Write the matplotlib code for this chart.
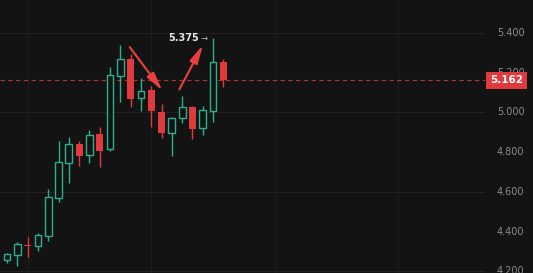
import matplotlib.pyplot as plt
import numpy as np

# candle data
opens = [4.256, 4.282, 4.334, 4.327, 4.377, 4.569, 4.745, 4.841, 4.785, 4.891, 4.816,
         5.183, 5.269, 5.073, 5.113, 5.002, 4.896, 4.972, 5.027, 4.921, 5.007, 5.254]
highs = [4.292, 4.347, 4.372, 4.392, 4.614, 4.856, 4.876, 4.856, 4.911, 4.926, 5.229,
         5.340, 5.294, 5.173, 5.133, 5.042, 4.977, 5.083, 5.032, 5.032, 5.375, 5.269]
lows = [4.241, 4.226, 4.272, 4.302, 4.352, 4.549, 4.644, 4.730, 4.745, 4.725, 4.806,
        5.052, 5.027, 5.007, 4.926, 4.871, 4.780, 4.947, 4.866, 4.886, 4.952, 5.128]
closes = [4.287, 4.337, 4.329, 4.382, 4.574, 4.750, 4.841, 4.780, 4.886, 4.806, 5.188,
          5.269, 5.067, 5.108, 5.007, 4.896, 4.972, 5.027, 4.916, 5.012, 5.254, 5.162]

last_price = 5.162
max_price = 5.375
ytick_vals = [4.2, 4.4, 4.6, 4.8, 5.0, 5.2, 5.4]
grid_y = [4.2, 4.6, 5.0, 5.4]
grid_x = [2, 14, 26, 38]

bg = '#131314'
green = '#2bb08c'
red = '#e0393e'

fig = plt.figure(figsize=(5.33, 2.73), dpi=100, facecolor=bg)
ax = fig.add_axes([0, 0, 485 / 533, 1])
ax.set_facecolor(bg)

x = np.arange(len(opens))
for i in x:
    o, h, l, c = opens[i], highs[i], lows[i], closes[i]
    up = c >= o
    col = green if up else red
    ax.vlines(i, l, h, color=col, lw=1, zorder=2)
    bottom = min(o, c)
    height = max(abs(c - o), 0.003)
    if up:
        ax.bar(i, height, bottom=bottom, width=0.66, facecolor=bg,
               edgecolor=col, linewidth=1, zorder=3)
    else:
        ax.bar(i, height, bottom=bottom, width=0.68, color=col, linewidth=0, zorder=3)

# grid
for gy in grid_y:
    ax.axhline(gy, color='#222224', lw=0.8, zorder=0)
for gx in grid_x:
    ax.axvline(gx, color='#1d1d1f', lw=0.8, zorder=0)

# last price line
ax.axhline(last_price, color=red, lw=0.8, ls=(0, (4, 3)), alpha=0.8, zorder=1)

# arrows
arrow_style = dict(arrowstyle='-|>,head_length=1.1,head_width=0.25',
                   color='#e8403f', lw=1.5)
ax.annotate('', xy=(15.25, 5.098), xytext=(11.75, 5.340),
            arrowprops=arrow_style, zorder=5)
ax.annotate('', xy=(19.15, 5.352), xytext=(16.6, 5.103),
            arrowprops=arrow_style, zorder=5)

# max label
ax.text(18.6, max_price, f'{max_price:.3f}', color='#e6e6e6', fontsize=7,
        fontweight='bold', ha='right', va='center', zorder=6)
ax.text(18.8, max_price - 0.004, '→', color='#bdbdbd', fontsize=6,
        ha='left', va='center', zorder=6)

ax.set_xlim(-0.68, 46.4)
ax.set_ylim(4.191, 5.566)
ax.set_xticks([])
ax.set_yticks([])
for s in ax.spines.values():
    s.set_visible(False)

# right price scale
for v in ytick_vals:
    fig.text(497 / 533, ax.transData.transform((0, v))[1] / 273, f'{v:.3f}',
             color='#8c8c8c', fontsize=7, ha='left', va='center')

ly = ax.transData.transform((0, last_price))[1] / 273
fig.text(490 / 533, ly, f'{last_price:.3f}', color='white', fontsize=7.5,
         fontweight='bold', ha='left', va='center',
         bbox=dict(boxstyle='square,pad=0.35', facecolor=red, edgecolor='none'))

fig.savefig('out.png', dpi=100, facecolor=bg)
